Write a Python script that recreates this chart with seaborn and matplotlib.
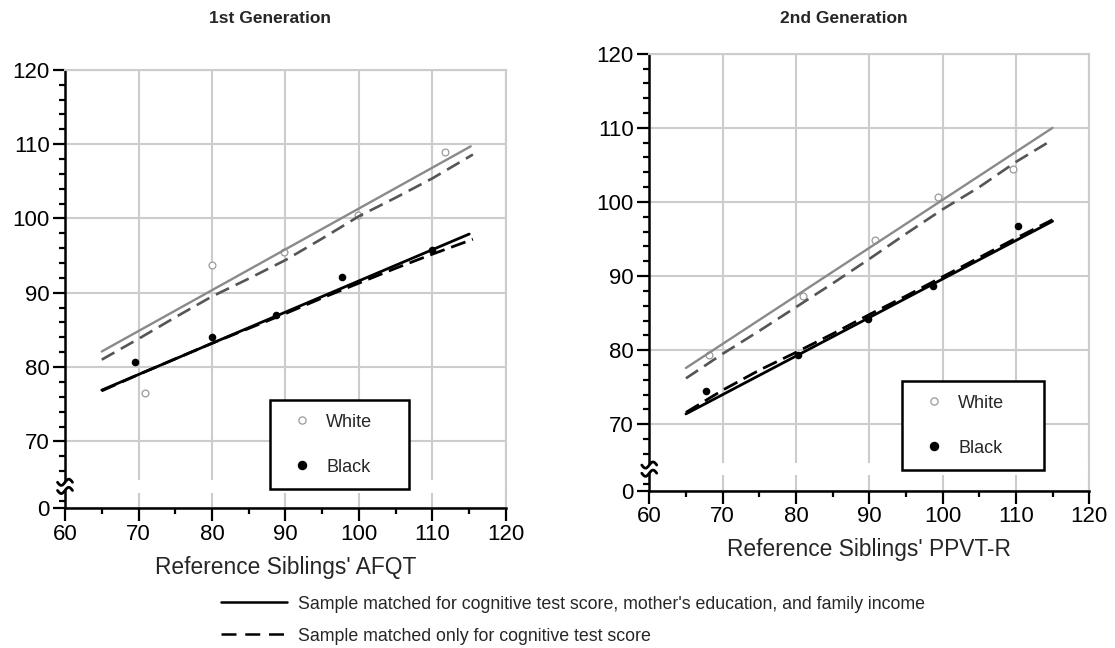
#!/usr/bin/env python3
"""
Reference siblings' score vs. matched sample score, two generations
"""

import numpy as np
import pandas as pd
import matplotlib
matplotlib.use("Agg")
import matplotlib.pyplot as plt
import seaborn as sns
from matplotlib.lines import Line2D
from matplotlib.patches import Rectangle
from matplotlib.ticker import MultipleLocator, FixedLocator

# ---- data ----
# 1st generation (AFQT)
g1_white_x = [70.9, 80.0, 89.8, 99.8, 111.7]
g1_white_y = [76.5, 93.8, 95.5, 100.4, 108.9]
g1_black_x = [69.5, 80.0, 88.7, 97.7, 109.9]
g1_black_y = [80.7, 84.0, 87.0, 92.1, 95.7]

g1_white_full_x = [65, 115.2]
g1_white_full_y = [82.1, 109.7]
g1_white_cog_x = [65, 70, 75, 80, 85, 90, 95, 100, 105, 110, 115.5]
g1_white_cog_y = [81.0, 83.8, 86.7, 89.5, 91.9, 94.4, 97.3, 100.3, 102.8, 105.4, 108.6]
g1_black_full_x = [65, 115]
g1_black_full_y = [76.9, 97.9]
g1_black_cog_x = [65, 70, 75, 80, 85, 90, 95, 100, 105, 110, 115.5]
g1_black_cog_y = [76.8, 79.0, 81.1, 83.2, 85.2, 87.2, 89.3, 91.3, 93.3, 95.2, 97.2]

# 2nd generation (PPVT-R)
g2_white_x = [68.1, 81.0, 90.8, 99.4, 109.6]
g2_white_y = [79.3, 87.3, 94.9, 100.6, 104.5]
g2_black_x = [67.7, 80.3, 89.8, 98.75, 110.35]
g2_black_y = [74.5, 79.3, 84.2, 88.6, 96.8]

g2_white_full_x = [65, 115]
g2_white_full_y = [77.6, 110.0]
g2_white_cog_x = [65, 70, 75, 80, 85, 90, 95, 100, 105, 110, 115]
g2_white_cog_y = [76.2, 79.5, 82.6, 85.8, 89.0, 92.3, 95.7, 99.0, 102.0, 105.4, 108.4]
g2_black_full_x = [65, 115]
g2_black_full_y = [71.4, 97.4]
g2_black_cog_x = [65, 70, 75, 80, 85, 90, 95, 100, 105, 110, 115]
g2_black_cog_y = [71.6, 74.6, 77.3, 79.7, 82.2, 84.8, 87.3, 89.9, 92.5, 95.1, 97.6]

titles = ["1st Generation", "2nd Generation"]
xlabels = ["Reference Siblings' AFQT", "Reference Siblings' PPVT-R"]
y_ticks = [70, 80, 90, 100, 110, 120]
legend_labels = ["Sample matched for cognitive test score, mother's education, and family income",
                 "Sample matched only for cognitive test score"]

# bottom of the (broken) y axis stands for 0
Y_ZERO = 61.0
BREAK_LO, BREAK_HI = 63.1, 64.8

WHITE_LINE = "#8a8a8a"
WHITE_DASH = "#555555"
WHITE_MARK = "#9a9a9a"
GRID = "#cccccc"

sns.set_style("white")
plt.rcParams['font.family'] = ['Liberation Sans', 'DejaVu Sans']


def draw_break(ax):
    """gap in gridlines and left spine, plus the two hook marks"""
    ax.axhspan(BREAK_LO, BREAK_HI, color="white", zorder=1.2, lw=0)
    tr = ax.get_yaxis_transform()
    ax.add_patch(Rectangle((-0.03, 63.4), 0.05, 1.1, transform=tr,
                           color="white", clip_on=False, zorder=10, lw=0))
    xs = np.linspace(-0.017, 0.017, 30)
    for y0 in (63.4, 64.5):
        ax.plot(xs, y0 + 0.42 * np.sin(xs / 0.017 * np.pi), transform=tr,
                color="black", lw=2.0, clip_on=False, zorder=11,
                solid_capstyle="round")


def panel(ax, d, title_x, title, xlabel, legend_box):
    fig = ax.figure
    pts_w = pd.DataFrame({"x": d["wx"], "y": d["wy"]})
    pts_b = pd.DataFrame({"x": d["bx"], "y": d["by"]})

    sns.scatterplot(data=pts_w, x="x", y="y", ax=ax, marker="o", s=24,
                    color="white", edgecolor=WHITE_MARK, linewidth=0.9, zorder=3)
    sns.scatterplot(data=pts_b, x="x", y="y", ax=ax, marker="o", s=30,
                    color="black", edgecolor="black", linewidth=0, zorder=3)

    sns.lineplot(x=d["wfx"], y=d["wfy"], ax=ax, color=WHITE_LINE, lw=1.7, zorder=4)
    sns.lineplot(x=d["wcx"], y=d["wcy"], ax=ax, color=WHITE_DASH, lw=1.9,
                 linestyle=(0, (5.5, 2.8)), zorder=4)
    sns.lineplot(x=d["bfx"], y=d["bfy"], ax=ax, color="black", lw=2.0, zorder=5)
    sns.lineplot(x=d["bcx"], y=d["bcy"], ax=ax, color="black", lw=2.0,
                 linestyle=(0, (5.5, 2.5)), zorder=5)

    ax.set_xlim(60, 120)
    ax.set_ylim(Y_ZERO, 120)
    ax.xaxis.set_major_locator(MultipleLocator(10))
    ax.xaxis.set_minor_locator(MultipleLocator(5))
    ax.yaxis.set_major_locator(FixedLocator([Y_ZERO] + y_ticks))
    ax.set_yticklabels(["0"] + [str(t) for t in y_ticks])
    ax.yaxis.set_minor_locator(FixedLocator([62, 66, 68] + list(range(72, 120, 2))))

    ax.set_axisbelow(True)
    ax.grid(True, which="major", color=GRID, lw=1.5)
    ax.tick_params(which="major", direction="out", length=9, width=1.6,
                   labelsize=16, colors="black", pad=2)
    ax.tick_params(which="minor", direction="out", length=4.5, width=1.6,
                   colors="black")
    ax.tick_params(axis="x", which="both", bottom=True)
    ax.tick_params(axis="y", which="both", left=True)
    for side in ("left", "bottom"):
        ax.spines[side].set_color("black")
        ax.spines[side].set_linewidth(1.8)
    for side in ("top", "right"):
        ax.spines[side].set_color(GRID)
        ax.spines[side].set_linewidth(1.5)

    ax.set_xlabel(xlabel, fontsize=16.4, labelpad=8)
    ax.set_ylabel("")
    fig.text(title_x, 0.971, title, ha="center", va="center",
             fontsize=12.5, fontweight="bold")

    draw_break(ax)

    handles = [Line2D([], [], marker="o", ls="none", mfc="white", mec=WHITE_MARK,
                      mew=0.9, ms=5.2),
               Line2D([], [], marker="o", ls="none", mfc="black", mec="black",
                      ms=5.8)]
    leg = ax.legend(handles, ["White", "Black"], loc="upper left",
                    bbox_to_anchor=legend_box, mode="expand", fontsize=13,
                    frameon=True, fancybox=False, framealpha=1, edgecolor="black",
                    borderpad=0.75, handlelength=2.0, handletextpad=0.35,
                    labelspacing=1.55, borderaxespad=0)
    leg.get_frame().set_linewidth(1.8)
    leg.set_zorder(12)


fig = plt.figure(figsize=(11.15, 6.48), dpi=100)
ax1 = fig.add_axes([0.0583, 0.2156, 0.3955, 0.6767])
ax2 = fig.add_axes([0.5823, 0.2423, 0.3946, 0.6748])

g1 = dict(wx=g1_white_x, wy=g1_white_y, bx=g1_black_x, by=g1_black_y,
          wfx=g1_white_full_x, wfy=g1_white_full_y,
          wcx=g1_white_cog_x, wcy=g1_white_cog_y,
          bfx=g1_black_full_x, bfy=g1_black_full_y,
          bcx=g1_black_cog_x, bcy=g1_black_cog_y)
g2 = dict(wx=g2_white_x, wy=g2_white_y, bx=g2_black_x, by=g2_black_y,
          wfx=g2_white_full_x, wfy=g2_white_full_y,
          wcx=g2_white_cog_x, wcy=g2_white_cog_y,
          bfx=g2_black_full_x, bfy=g2_black_full_y,
          bcx=g2_black_cog_x, bcy=g2_black_cog_y)

panel(ax1, g1, 0.242, titles[0], xlabels[0], (0.465, 0.047, 0.315, 0.2))
panel(ax2, g2, 0.757, titles[1], xlabels[1], (0.575, 0.051, 0.323, 0.2))

# shared line-style legend under the panels
style_handles = [Line2D([], [], color="black", lw=1.8),
                 Line2D([], [], color="black", lw=1.8, linestyle=(0, (6, 3.5)))]
fig.legend(style_handles, legend_labels, loc="upper left",
           bbox_to_anchor=(0.198, 0.081), frameon=False, fontsize=12.8,
           handlelength=3.75, handletextpad=0.6, labelspacing=0.85,
           borderpad=0, borderaxespad=0)

fig.savefig("out.png", dpi=100)
